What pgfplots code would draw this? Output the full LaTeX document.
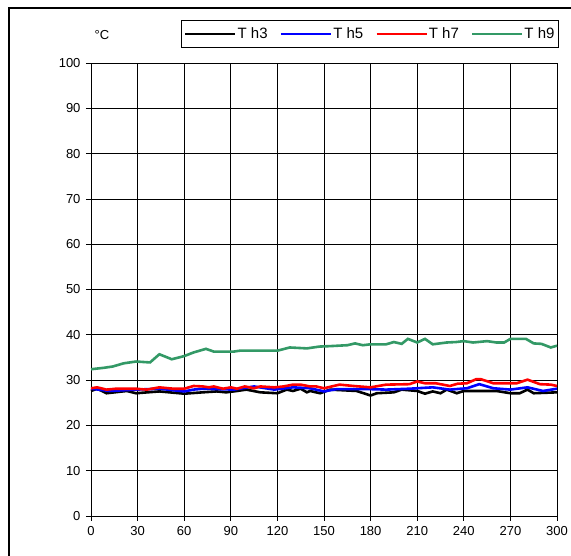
\documentclass[border=0pt]{standalone}
\usepackage{pgfplots}
\pgfplotsset{compat=1.18}
\usepackage{fontspec}
\setmainfont{Liberation Sans}
\definecolor{tgreen}{RGB}{51,153,102}
\begin{document}
\begin{tikzpicture}[x=1pt,y=1pt]
\useasboundingbox (-91,-39) rectangle (480,516);
\fill[white] (-91,-39) rectangle (480,516);
\draw[line width=2pt] (-82,-40) -- (-82,508) -- (481,508);
\begin{axis}[at={(0,0)}, anchor=south west, scale only axis,
  width=466pt, height=453pt,
  xmin=0, xmax=300, ymin=0, ymax=100,
  xtick={0,30,...,300}, ytick={0,10,...,100},
  grid=major, major grid style={black, line width=0.7pt},
  axis line style={black, line width=0.8pt},
  tick align=outside, xtick pos=bottom, ytick pos=left,
  major tick length=5pt, tick style={black, line width=0.7pt},
  ticklabel style={font=\fontsize{13}{15}\selectfont},
  xticklabel style={yshift=-2pt},
  yticklabel style={xshift=-2pt},
  /pgf/number format/assume math mode=true,
  clip=false,
  legend columns=4,
  legend image code/.code={\draw[#1] (0pt,0pt) -- (50pt,0pt);},
  legend style={at={(rel axis cs:1.004,1.064)}, anchor=east, draw=black, line width=0.7pt,
    font=\fontsize{15}{17}\selectfont, inner xsep=3pt, inner ysep=5.5pt,
    nodes={inner xsep=1pt, inner ysep=2pt},
    /tikz/every even column/.append style={column sep=11pt}},
]
\addplot[black, line width=2.6pt] coordinates {
(0,27.6) (4,28.1) (10,27.1) (23,27.6) (29,27.1) (44,27.5) (60,27.0) (72,27.3) (81,27.5) (87,27.3) (94,27.6) (100,27.9) (109,27.3) (120,27.1) (126,27.9) (130,27.6) (135,28.1) (139,27.3) (141,27.6) (147.5,27.1) (154,27.9) (171,27.6) (180,26.6) (184,27.1) (195,27.3) (200,27.9) (210,27.6) (215,27.0) (220,27.5) (225,27.1) (229,27.9) (235.5,27.1) (240,27.6) (261,27.6) (270,27.1) (276,27.1) (281,27.9) (285,27.1) (300,27.3)};
\addlegendentry{T h3}
\addplot[blue, line width=2.6pt] coordinates {
(0,28.1) (12,27.6) (29,27.9) (44,28.1) (60,27.5) (66,27.9) (72,28.1) (92,27.9) (105,28.6) (118,27.9) (130,28.4) (141,28.2) (150,27.5) (158,28.0) (180,28.0) (190,27.9) (205,28.1) (220,28.4) (231,27.9) (242,28.2) (250,29.1) (259,28.2) (270,27.9) (281,28.4) (291,27.6) (300,28.1)};
\addlegendentry{T h5}
\addplot[red, line width=2.6pt] coordinates {
(0,28.2) (4,28.4) (10,27.9) (16,28.1) (29,28.1) (36,27.9) (44,28.4) (53,28.1) (60,28.1) (66,28.7) (72,28.6) (76,28.4) (79,28.6) (85,28.1) (90,28.4) (94,28.1) (99,28.6) (105,28.2) (109,28.6) (118,28.4) (124,28.6) (130,29.0) (135,29.0) (141,28.6) (145,28.6) (150,28.2) (160,29.0) (169,28.7) (180,28.4) (190,29.0) (205,29.1) (210,29.7) (215,29.3) (222,29.3) (231,28.7) (236,29.2) (242,29.3) (248,30.2) (251,30.2) (259,29.3) (274,29.3) (281,30.1) (289,29.1) (296,29.0) (300,28.7)};
\addlegendentry{T h7}
\addplot[tgreen, line width=2.6pt] coordinates {
(0,32.4) (8,32.7) (14,33.0) (21,33.7) (29,34.1) (38,33.9) (44,35.7) (52,34.6) (60,35.3) (66,36.1) (74,36.9) (79,36.3) (92,36.3) (96,36.5) (120,36.5) (128,37.2) (139,37.0) (147,37.4) (154,37.5) (165,37.7) (170,38.1) (175,37.7) (180,37.9) (190,37.9) (195,38.4) (200,38.0) (204,39.1) (210,38.3) (215,39.1) (220,37.9) (229,38.3) (235,38.4) (240,38.6) (246,38.3) (255,38.6) (261,38.3) (266,38.3) (270,39.1) (280,39.1) (285,38.1) (290,38.0) (296,37.2) (300,37.6)};
\addlegendentry{T h9}
\node[font=\fontsize{13}{15}\selectfont] at (rel axis cs:0.0236,1.062) {°C};
\end{axis}
\end{tikzpicture}
\end{document}
